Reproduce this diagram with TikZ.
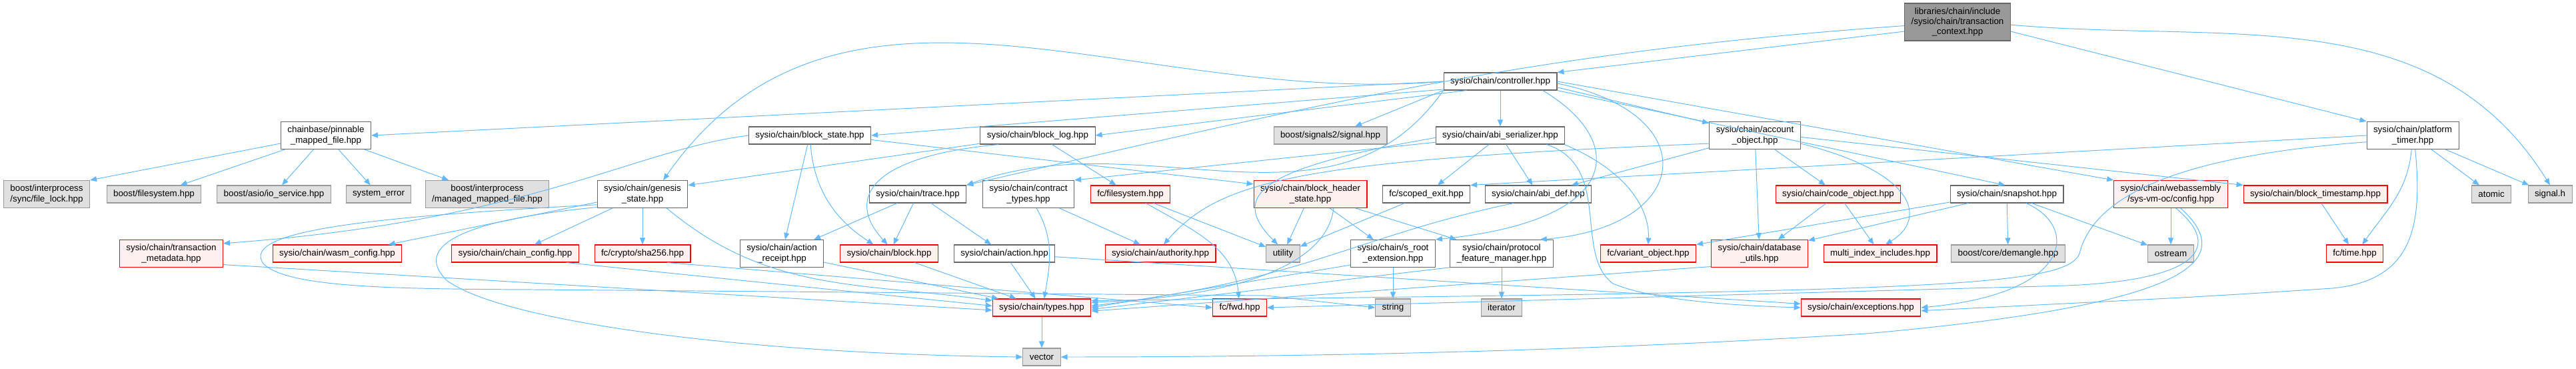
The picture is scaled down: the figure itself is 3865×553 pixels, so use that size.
\documentclass[tikz,border=0pt]{standalone}
\usepackage{fontspec}
\setmainfont{Liberation Sans}
\usepackage{tikz}
\usetikzlibrary{arrows.meta}
\definecolor{lnk}{RGB}{99,184,255}
\definecolor{boxframe}{RGB}{102,102,102}
\definecolor{redfill}{RGB}{255,240,240}
\definecolor{grayfill}{RGB}{224,224,224}
\definecolor{grayframe}{RGB}{153,153,153}
\definecolor{rootfill}{RGB}{153,153,153}

\begin{document}
\begin{tikzpicture}[
  x=0.02cm,y=-0.02cm,
  font=\fontsize{7.6}{8.6}\selectfont,
  box/.style={draw=boxframe,fill=white,line width=0.6pt,align=center,inner xsep=0.2cm,inner ysep=0.04cm,minimum height=0.52cm},
  two/.style={minimum height=0.82cm},
  hdr/.style={box,fill=rootfill,minimum height=1.12cm},
  ext/.style={box,draw=red,fill=redfill},
  sys/.style={box,draw=grayframe,fill=grayfill},
  >={Triangle[length=0.2cm,width=0.16cm]},
  every path/.style={draw=lnk,line width=0.55pt}
]
\path[use as bounding box,draw=none] (0,0) rectangle (3865,553);
% header and controller
\node[hdr] (tc) at (2937,33) {libraries/chain/include\\/sysio/chain/transaction\\\_context.hpp};
\node[box] (ctrl) at (2251,122) {sysio/chain/controller.hpp};
% second row
\node[box,two] (pin) at (489,203) {chainbase/pinnable\\\_mapped\_file.hpp};
\node[box] (bst) at (1215,203) {sysio/chain/block\_state.hpp};
\node[box] (blg) at (1557,203) {sysio/chain/block\_log.hpp};
\node[sys] (sig) at (1996,203) {boost/signals2/signal.hpp};
\node[box] (abi) at (2251,203) {sysio/chain/abi\_serializer.hpp};
\node[box,two] (acc) at (2633,203) {sysio/chain/account\\\_object.hpp};
\node[box,two] (ptm) at (3620,203) {sysio/chain/platform\\\_timer.hpp};
% third row
\node[sys,two] (flk) at (70,291) {boost/interprocess\\/sync/file\_lock.hpp};
\node[sys] (bfs) at (231,291) {boost/filesystem.hpp};
\node[sys] (aso) at (411,291) {boost/asio/io\_service.hpp};
\node[sys] (ser) at (568,291) {system\_error};
\node[sys,two] (mmf) at (731,291) {boost/interprocess\\/managed\_mapped\_file.hpp};
\node[box,two] (gen) at (964,291) {sysio/chain/genesis\\\_state.hpp};
\node[box] (trc) at (1377,291) {sysio/chain/trace.hpp};
\node[box,two] (ctp) at (1543,291) {sysio/chain/contract\\\_types.hpp};
\node[ext] (ffs) at (1696,291) {fc/filesystem.hpp};
\node[ext,two] (bhs) at (1966,291) {sysio/chain/block\_header\\\_state.hpp};
\node[box] (sce) at (2140,291) {fc/scoped\_exit.hpp};
\node[box] (adf) at (2308,291) {sysio/chain/abi\_def.hpp};
\node[ext] (cob) at (2758,291) {sysio/chain/code\_object.hpp};
\node[box] (snp) at (3011,291) {sysio/chain/snapshot.hpp};
\node[ext,two] (voc) at (3257,291) {sysio/chain/webassembly\\/sys-vm-oc/config.hpp};
\node[ext] (bts) at (3474,291) {sysio/chain/block\_timestamp.hpp};
\node[sys] (atm) at (3738,291) {atomic};
\node[sys] (sgh) at (3826,291) {signal.h};
% fourth row
\node[ext,two] (txm) at (257,380) {sysio/chain/transaction\\\_metadata.hpp};
\node[ext] (wcf) at (506,380) {sysio/chain/wasm\_config.hpp};
\node[ext] (ccf) at (773,380) {sysio/chain/chain\_config.hpp};
\node[ext] (sha) at (964,380) {fc/crypto/sha256.hpp};
\node[box,two] (arc) at (1173,380) {sysio/chain/action\\\_receipt.hpp};
\node[ext] (blk) at (1334,380) {sysio/chain/block.hpp};
\node[box] (act) at (1507,380) {sysio/chain/action.hpp};
\node[ext] (aut) at (1741,380) {sysio/chain/authority.hpp};
\node[sys] (utl) at (1925,380) {utility};
\node[box,two] (srt) at (2090,380) {sysio/chain/s\_root\\\_extension.hpp};
\node[box,two] (pfm) at (2253,380) {sysio/chain/protocol\\\_feature\_manager.hpp};
\node[ext] (var) at (2473,380) {fc/variant\_object.hpp};
\node[ext,two] (dbu) at (2640,380) {sysio/chain/database\\\_utils.hpp};
\node[ext] (mii) at (2821,380) {multi\_index\_includes.hpp};
\node[sys] (dem) at (3013,380) {boost/core/demangle.hpp};
\node[sys] (ost) at (3257,380) {ostream};
\node[ext] (ftm) at (3533,380) {fc/time.hpp};
% bottom rows
\node[ext] (typ) at (1563,461) {sysio/chain/types.hpp};
\node[ext] (fwd) at (1860,461) {fc/fwd.hpp};
\node[sys] (str) at (2090,461) {string};
\node[sys] (itr) at (2253,461) {iterator};
\node[ext] (exc) at (2792,461) {sysio/chain/exceptions.hpp};
\node[sys] (vec) at (1563,535) {vector};
% header includes
\draw[->](tc.190)--(ctrl.north east);
\draw[->](tc.184) to[out=184,in=13] (trc.north east);
\draw[->](tc.-10)--(ptm.north west);
\draw[->](tc.-3) to[out=-5,in=122] (sgh.north);
% controller includes
\draw[->](ctrl.west)--(pin.east); \draw[->](ctrl.188)--(bst.east); \draw[->](ctrl.195)--(blg.east);
\draw[->](ctrl.west) to[out=185,in=55] (gen.34);
\draw[->](ctrl.south west)--(sig.20); \draw[->](ctrl)--(abi);
\draw[->](ctrl.-6)--(acc.165); \draw[->](ctrl.-9)--(snp.100); \draw[->](ctrl.east)--(voc.north west);
\draw[->](ctrl.south west) to[out=235,in=20] (trc.north east);
\draw[->](ctrl.-12) .. controls (2440,210) and (2440,330) .. (srt.north east);
\draw[->](ctrl.-2) .. controls (2560,170) and (2540,340) .. (pfm.20);
% abi serializer
\draw[->](abi)--(sce); \draw[->](abi)--(adf);
\draw[->](abi.-8) .. controls (2450,260) and (2475,320) .. (var.north);
\draw[->](abi.-11) .. controls (2420,250) and (2360,380) .. (2420,425) .. controls (2480,450) and (2600,458) .. (exc.west);
\draw[->](abi.186)--(ctp.north east);
\draw[->](abi.182) .. controls (1900,250) and (1840,290) .. (utl.120);
% account object
\draw[->](acc.190) .. controls (1950,240) and (1830,270) .. (aut.70);
\draw[->](acc)--(adf); \draw[->](acc)--(dbu); \draw[->](acc)--(cob);
\draw[->](acc.-10) .. controls (2880,260) and (2890,330) .. (mii.60);
\draw[->](acc.-2)--(bts.north west);
% code object and snapshot
\draw[->](cob)--(dbu); \draw[->](cob)--(mii);
\draw[->](snp.188)--(var.north east); \draw[->](snp)--(dbu.15);
\draw[->](snp)--(dem); \draw[->](snp)--(ost);
\draw[->](snp.-25) .. controls (3120,340) and (3110,440) .. (exc.east);
% webassembly config
\draw[->](voc)--(ost);
\draw[->](voc.-70) .. controls (3335,370) and (3300,420) .. (3100,428) -- (fwd.east);
\draw[->](voc.-55) .. controls (3370,400) and (3250,460) .. (2800,500) .. controls (2400,525) and (2000,535) .. (vec.east);
% platform timer
\draw[->](ptm.west)--(sce.north east);
\draw[->](ptm.188) .. controls (3250,235) and (3140,300) .. (3120,380) .. controls (3100,430) and (2900,437) .. (typ.8);
\draw[->](ptm) to[out=-95,in=55] (ftm.50);
\draw[->](ptm)--(atm); \draw[->](ptm)--(sgh);
\draw[->](ptm.-80) .. controls (3635,340) and (3620,420) .. (3500,432) .. controls (3300,445) .. (exc.-3);
\draw[->](bts)--(ftm);
% block header state
\draw[->](bhs)--(srt); \draw[->](bhs)--(pfm); \draw[->](bhs)--(utl);
\draw[->](bhs.-31) .. controls (1990,400) and (1850,445) .. (typ.6);
% scoped exit, abi def, extensions
\draw[->](sce)--(utl);
\draw[->](adf.200) .. controls (2030,355) and (1960,420) .. (typ.2);
\draw[->](srt)--(str); \draw[->](srt.195)--(typ.0);
\draw[->](pfm)--(itr); \draw[->](pfm.195)--(typ.-2);
\draw[->](dbu.195)--(typ.-4);
% trace, contract types, filesystem
\draw[->](trc)--(arc); \draw[->](trc)--(blk); \draw[->](trc)--(act);
\draw[->](ctp) to[out=-60,in=80] (typ.75);
\draw[->](ctp)--(aut);
\draw[->](ffs)--(utl); \draw[->](ffs) to[out=-30,in=95] (fwd);
% block log and block state
\draw[->](blg)--(ffs);
\draw[->](blg.188)--(gen.11);
\draw[->](blg.193) .. controls (1300,235) and (1270,300) .. (blk.100);
\draw[->](bst.west) .. controls (950,225) and (800,330) .. (txm.11);
\draw[->](bst)--(arc);
\draw[->](bst.-85) .. controls (1222,300) and (1270,340) .. (blk.150);
\draw[->](bst.-4)--(bhs.170);
% genesis state
\draw[->](gen)--(ccf); \draw[->](gen)--(sha);
\draw[->](gen.190)--(wcf.10);
\draw[->](gen.-30) to[out=-40,in=172] (typ);
\draw[->](gen.193) .. controls (560,325) and (360,345) .. (395,395) .. controls (430,432) and (600,433) .. (800,434) -- (1900,443) -- (str.west);
\draw[->](gen.196) .. controls (690,330) and (620,370) .. (670,420) .. controls (750,480) and (1100,530) .. (vec.west);
% pinnable mapped file
\draw[->](pin.190)--(flk.north east); \draw[->](pin)--(bfs); \draw[->](pin)--(aso);
\draw[->](pin)--(ser); \draw[->](pin)--(mmf);
% into types
\draw[->](txm.-12)--(typ.183); \draw[->](ccf.-10)--(typ.178); \draw[->](sha.-20)--(fwd.west);
\draw[->](arc)--(typ); \draw[->](blk)--(typ); \draw[->](act)--(typ);
\draw[->](act)--(exc);
\draw[->](typ)--(vec);
\end{tikzpicture}
\end{document}
